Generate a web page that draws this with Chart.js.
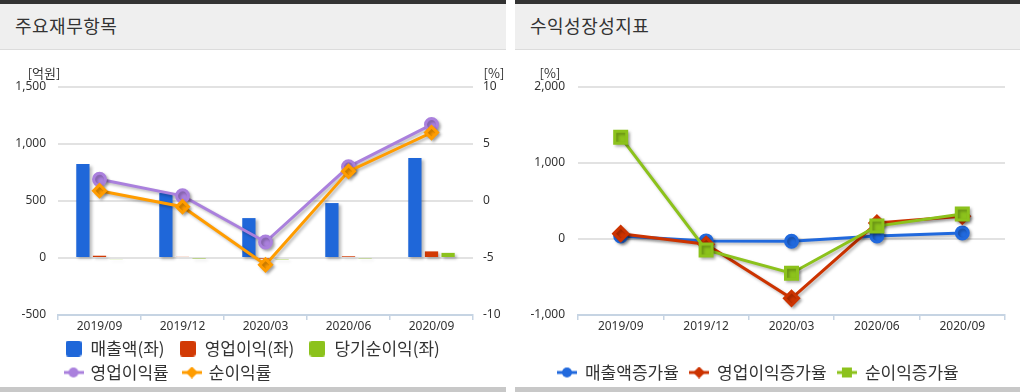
<!DOCTYPE html>
<html>
<head>
<meta charset="utf-8">
<script src="https://cdn.jsdelivr.net/npm/chart.js@4.4.1/dist/chart.umd.min.js"></script>
<style>
    body { margin: 0; background: #fff; width: 1020px; height: 392px; overflow: hidden; font-family: "Noto Sans CJK KR", "Noto Sans", sans-serif; }
    .panel { position: absolute; top: 0; height: 392px; overflow: hidden; }
    .topbar { height: 4px; background: #333; }
    .head { height: 45px; background: #efefef; border-bottom: 1px solid #dcdcdc; color: #333; font-size: 18px; letter-spacing: 0.5px; line-height: 42px; padding-left: 15px; }
    .box { position: relative; height: 341px; }
    .bottombar { position: absolute; left: 0; right: 0; top: 387px; height: 5px; background: #c8c8c8; }
</style>
</head>
<body>
<div class="panel" style="left:0;width:506px">
    <div class="topbar"></div>
    <div class="head">주요재무항목</div>
    <div class="box"><canvas id="finChart"></canvas></div>
    <div class="bottombar"></div>
</div>
<div class="panel" style="left:515px;width:505px">
    <div class="topbar"></div>
    <div class="head">수익성장성지표</div>
    <div class="box"><canvas id="growthChart"></canvas></div>
    <div class="bottombar"></div>
</div>
<script>
// 분기
const periods = ['2019/09', '2019/12', '2020/03', '2020/06', '2020/09'];

// 주요재무항목 (억원)
const sales = [825, 570, 350, 482, 877];
const operatingProfit = [20, 10, -3, 15, 58];
const netProfit = [-10, -5, -12, -6, 45];

// 주요재무항목 (%)
const operatingMargin = [1.9, 0.45, -3.6, 3.0, 6.7];
const netMargin = [0.9, -0.5, -5.6, 2.6, 6.0];

// 수익성장성지표 (%)
const salesGrowth = [40, -25, -30, 40, 80];
const operatingGrowth = [70, -70, -780, 210, 300];
const netGrowth = [1340, -145, -450, 170, 330];

const FONT = '"Noto Sans CJK KR", "Noto Sans", sans-serif';
const TEXT = '#333';
const GRID = '#e2e2e2';
const AXIS = '#c6d4e3';

Chart.defaults.font.family = FONT;
Chart.defaults.color = TEXT;
Chart.defaults.animation = false;

// legend icons
function boxIcon(color) {
    const c = document.createElement('canvas');
    c.width = 16; c.height = 16;
    const g = c.getContext('2d');
    g.fillStyle = color;
    g.beginPath();
    g.roundRect(0, 0, 16, 16, 3);
    g.fill();
    return c;
}

function lineIcon(color, shape) {
    const c = document.createElement('canvas');
    c.width = 20; c.height = 12;
    const g = c.getContext('2d');
    g.strokeStyle = color;
    g.fillStyle = color;
    g.lineWidth = 3;
    g.beginPath();
    g.moveTo(0, 6); g.lineTo(20, 6);
    g.stroke();
    g.beginPath();
    if (shape === 'circle') {
        g.arc(10, 6, 5, 0, Math.PI * 2);
    } else if (shape === 'rectRot') {
        g.moveTo(10, 0); g.lineTo(16, 6); g.lineTo(10, 12); g.lineTo(4, 6); g.closePath();
    } else {
        g.rect(5, 1, 10, 10);
    }
    g.fill();
    return c;
}

// trailing spaces widen the gap between legend items without changing row height
function legendItems(gap) {
    return function (chart) {
        return chart.data.datasets.map((ds, i) => ({
            text: ds.label + gap,
            fillStyle: ds.backgroundColor,
            strokeStyle: ds.backgroundColor,
            lineWidth: 0,
            fontColor: TEXT,
            pointStyle: ds.type === 'line' || chart.config.type === 'line'
                ? lineIcon(ds.borderColor, ds.pointStyle)
                : boxIcon(ds.backgroundColor),
            hidden: !chart.isDatasetVisible(i),
            datasetIndex: i
        }));
    };
}

const shadowPlugin = {
    id: 'shadow',
    beforeDatasetsDraw(chart) {
        const ctx = chart.ctx;
        ctx.save();
        ctx.shadowColor = 'rgba(0,0,0,0.28)';
        ctx.shadowBlur = 3;
        ctx.shadowOffsetX = 2;
        ctx.shadowOffsetY = 2;
    },
    afterDatasetsDraw(chart) {
        chart.ctx.restore();
    }
};

const unitPlugin = {
    id: 'units',
    afterDraw(chart, args, opts) {
        const ctx = chart.ctx;
        const area = chart.chartArea;
        ctx.save();
        ctx.font = '13px ' + FONT;
        ctx.fillStyle = TEXT;
        ctx.textAlign = 'center';
        ctx.textBaseline = 'middle';
        if (opts.left) ctx.fillText(opts.left, area.left + opts.leftX, area.top - 14);
        if (opts.right) ctx.fillText(opts.right, area.right + opts.rightX, area.top - 14);
        ctx.restore();
    }
};

const tickFont = { size: 12, lineHeight: 1, family: '"Noto Sans", sans-serif' };
const legendFont = { size: 17, family: FONT };

new Chart(document.getElementById('finChart'), {
    type: 'bar',
    plugins: [shadowPlugin, unitPlugin],
    data: {
        labels: periods,
        datasets: [
            { label: '매출액(좌)', data: sales, backgroundColor: '#1f67d9', yAxisID: 'y', order: 2 },
            { label: '영업이익(좌)', data: operatingProfit, backgroundColor: '#d23a05', yAxisID: 'y', order: 2 },
            { label: '당기순이익(좌)', data: netProfit, backgroundColor: '#8cc21c', yAxisID: 'y', order: 2 },
            {
                type: 'line', label: '영업이익률', data: operatingMargin, yAxisID: 'y1', order: 1,
                borderColor: '#aa80dd', backgroundColor: '#aa80dd', borderWidth: 3,
                pointStyle: 'circle', pointRadius: 6, pointHoverRadius: 6
            },
            {
                type: 'line', label: '순이익률', data: netMargin, yAxisID: 'y1', order: 0,
                borderColor: '#ff9c00', backgroundColor: '#ff9c00', borderWidth: 3,
                pointStyle: 'rectRot', pointRadius: 6, pointHoverRadius: 6
            }
        ]
    },
    options: {
        responsive: true,
        maintainAspectRatio: false,
        locale: 'en-US',
        layout: { padding: { top: 37, left: 0, right: 0, bottom: 0 } },
        datasets: { bar: { categoryPercentage: 0.6, barPercentage: 0.8 } },
        plugins: {
            tooltip: { enabled: false },
            units: { left: '[억원]', leftX: -14, right: '[%]', rightX: 21 },
            legend: {
                position: 'bottom',
                align: 'start',
                fullSize: false,
                labels: {
                    usePointStyle: true,
                    pointStyleWidth: 17,
                    padding: 7,
                    color: TEXT,
                    font: legendFont,
                    generateLabels: legendItems('  ')
                }
            }
        },
        scales: {
            x: {
                offset: true,
                grid: { offset: true, drawOnChartArea: false, color: AXIS, lineWidth: 1.5, tickLength: 5 },
                border: { color: AXIS, width: 2 },
                ticks: { padding: 1, font: tickFont, color: TEXT },
                afterFit(scale) { scale.height = 18; }
            },
            y: {
                position: 'left',
                min: -500, max: 1500,
                ticks: { stepSize: 500, padding: 12, font: tickFont, color: TEXT },
                grid: { color: GRID, lineWidth: 2, drawTicks: false },
                border: { display: false },
                afterFit(scale) { scale.width = 58; }
            },
            y1: {
                position: 'right',
                min: -10, max: 10,
                ticks: { stepSize: 5, padding: 10, font: tickFont, color: TEXT },
                grid: { display: false, drawTicks: false },
                border: { display: false },
                afterFit(scale) { scale.width = 33; }
            }
        }
    }
});

new Chart(document.getElementById('growthChart'), {
    type: 'line',
    plugins: [shadowPlugin, unitPlugin],
    data: {
        labels: periods,
        datasets: [
            {
                label: '매출액증가율', data: salesGrowth, order: 2,
                borderColor: '#2169dd', backgroundColor: '#2169dd', borderWidth: 3,
                pointStyle: 'circle', pointRadius: 6, pointHoverRadius: 6
            },
            {
                label: '영업이익증가율', data: operatingGrowth, order: 1,
                borderColor: '#cc3300', backgroundColor: '#cc3300', borderWidth: 3,
                pointStyle: 'rectRot', pointRadius: 7, pointHoverRadius: 7
            },
            {
                label: '순이익증가율', data: netGrowth, order: 0,
                borderColor: '#8cc21c', backgroundColor: '#8cc21c', borderWidth: 3,
                pointStyle: 'rect', pointRadius: 8.5, pointHoverRadius: 8.5
            }
        ]
    },
    options: {
        responsive: true,
        maintainAspectRatio: false,
        locale: 'en-US',
        layout: { padding: { top: 37, left: 0, right: 15, bottom: 0 } },
        plugins: {
            tooltip: { enabled: false },
            units: { left: '[%]', leftX: -28 },
            legend: {
                position: 'bottom',
                align: 'center',
                title: { display: true, text: '', padding: 0, font: { size: 20, lineHeight: 1.2 } },
                labels: {
                    usePointStyle: true,
                    pointStyleWidth: 19,
                    padding: 7,
                    color: TEXT,
                    font: legendFont,
                    generateLabels: legendItems(' ')
                }
            }
        },
        scales: {
            x: {
                offset: true,
                grid: { offset: true, drawOnChartArea: false, color: AXIS, lineWidth: 1.5, tickLength: 5 },
                border: { color: AXIS, width: 2 },
                ticks: { padding: 1, font: tickFont, color: TEXT },
                afterFit(scale) { scale.height = 18; }
            },
            y: {
                min: -1000, max: 2000,
                ticks: { stepSize: 1000, padding: 13, font: tickFont, color: TEXT },
                grid: { color: GRID, lineWidth: 2, drawTicks: false },
                border: { display: false },
                afterFit(scale) { scale.width = 63; }
            }
        }
    }
});
</script>
</body>
</html>
